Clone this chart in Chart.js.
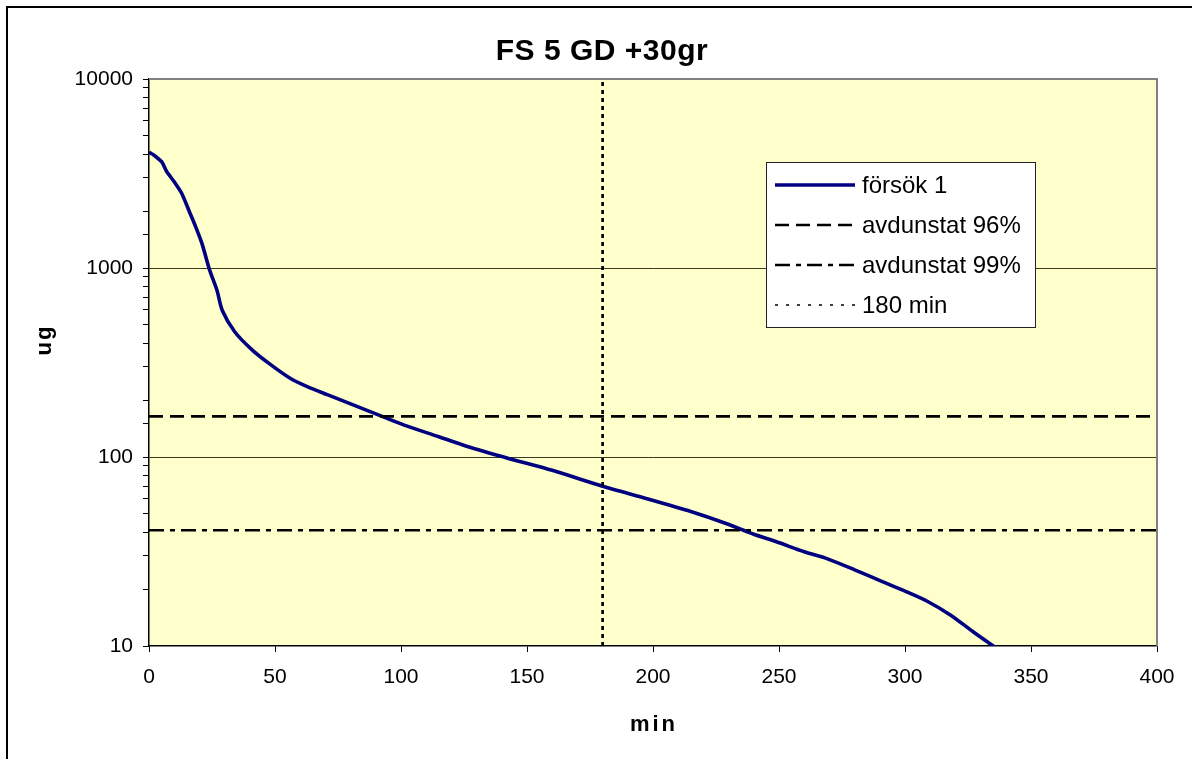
<!DOCTYPE html>
<html>
<head>
<meta charset="utf-8">
<title>FS 5 GD +30gr</title>
<script src="https://cdn.jsdelivr.net/npm/chart.js@4.4.1/dist/chart.umd.min.js"></script>
<style>
  html, body { margin: 0; padding: 0; background: #fff; overflow: hidden; }
  #wrap { position: relative; width: 1192px; height: 759px; }
</style>
</head>
<body>
<div id="wrap"><canvas id="c" width="1192" height="759"></canvas></div>
<script>
// Texts
const chartTitle = 'FS 5 GD +30gr';
const xAxisTitle = 'min';
const yAxisTitle = 'ug';
const seriesNames = ['försök 1', 'avdunstat 96%', 'avdunstat 99%', '180 min'];

// Measured mass (ug) against time (min)
const minutes = [0, 2, 5, 7, 10, 13, 16, 18, 21, 24, 27, 29, 34, 41, 48, 56, 63, 71, 80, 93,
                 101, 115, 126, 143, 160, 180, 198, 215, 229, 240, 249, 260, 269, 280, 291,
                 300, 309, 318, 327, 336];
const mass = [4100, 3950, 3650, 3240, 2860, 2480, 1990, 1720, 1350, 980, 760, 600, 460, 368,
              310, 261, 235, 213, 191, 163, 148, 128, 114, 98, 85, 70, 60, 51.5, 44.5, 39,
              35.6, 31.5, 29, 25.3, 21.9, 19.5, 17.2, 14.6, 11.9, 9.8];

// Reference levels
const level96 = 164;      // 4 % of the start mass left
const level99 = 41;       // 1 % of the start mass left
const markMinute = 180;

// Axes
const xMin = 0, xMax = 400, xStep = 50;
const yMin = 10, yMax = 10000;
const yTickValues = [10, 100, 1000, 10000];
const yTickLabels = ['10', '100', '1000', '10000'];

const FONT = "'Liberation Sans', Arial, Helvetica, sans-serif";
Chart.defaults.font.family = FONT;
Chart.defaults.color = '#000';

const PLOT_BG = '#FFFFCC';

// Page frame, plot background and plot border
const backdrop = {
  id: 'backdrop',
  beforeDraw(chart) {
    const { ctx, chartArea: a } = chart;
    ctx.save();
    ctx.fillStyle = '#fff';
    ctx.fillRect(0, 0, chart.width, chart.height);
    ctx.strokeStyle = '#000';
    ctx.lineWidth = 2;
    ctx.strokeRect(7, 7, chart.width + 20, chart.height + 20);
    ctx.fillStyle = PLOT_BG;
    ctx.fillRect(a.left, a.top, a.right - a.left, a.bottom - a.top);
    ctx.restore();
  },
  beforeDatasetsDraw(chart) {
    const { ctx, chartArea: a } = chart;
    ctx.save();
    ctx.strokeStyle = '#808080';
    ctx.lineWidth = 2;
    ctx.beginPath();
    ctx.moveTo(a.left, a.top);
    ctx.lineTo(a.right, a.top);
    ctx.lineTo(a.right, a.bottom);
    ctx.stroke();
    ctx.restore();
  }
};

// Titles and the boxed legend inside the plot
const annotations = {
  id: 'annotations',
  afterDraw(chart) {
    const { ctx, chartArea: a } = chart;
    ctx.save();
    ctx.fillStyle = '#000';
    ctx.textAlign = 'center';
    ctx.textBaseline = 'middle';
    ctx.font = `bold 30px ${FONT}`;
    ctx.letterSpacing = '0.5px';
    ctx.fillText(chartTitle, 602, 52);

    ctx.font = `bold 22px ${FONT}`;
    ctx.letterSpacing = '3px';
    ctx.fillText(xAxisTitle, (a.left + a.right) / 2 + 1, 725);

    ctx.save();
    ctx.translate(45, 340);
    ctx.rotate(-Math.PI / 2);
    ctx.font = `bold 22px ${FONT}`;
    ctx.letterSpacing = '2px';
    ctx.fillText(yAxisTitle, 0, 0);
    ctx.restore();
    ctx.letterSpacing = '0px';

    // legend
    const bx = 766, by = 162, bw = 269, bh = 165;
    ctx.fillStyle = '#fff';
    ctx.fillRect(bx, by, bw, bh);
    ctx.strokeStyle = '#222';
    ctx.lineWidth = 1;
    ctx.strokeRect(bx + 0.5, by + 0.5, bw, bh);

    chart.data.datasets.forEach((ds, i) => {
      const y = 185 + i * 40;
      ctx.save();
      ctx.strokeStyle = ds.borderColor;
      ctx.lineWidth = ds.legendWidth || ds.borderWidth;
      ctx.setLineDash(ds.legendDash || ds.borderDash || []);
      ctx.beginPath();
      ctx.moveTo(775, y);
      ctx.lineTo(855, y);
      ctx.stroke();
      ctx.restore();
      ctx.fillStyle = '#000';
      ctx.textAlign = 'left';
      ctx.textBaseline = 'middle';
      ctx.font = `24px ${FONT}`;
      ctx.fillText(ds.label, 862, y + 1);
    });
    ctx.restore();
  }
};

const curve = minutes.map((m, i) => ({ x: m, y: mass[i] }));

new Chart(document.getElementById('c'), {
  type: 'scatter',
  data: {
    datasets: [
      {
        label: seriesNames[0],
        data: curve,
        showLine: true,
        borderColor: '#000080',
        borderWidth: 3.6,
        pointRadius: 0,
        tension: 0.25,
        order: 4
      },
      {
        label: seriesNames[1],
        data: [{ x: xMin, y: level96 }, { x: xMax, y: level96 }],
        showLine: true,
        borderColor: '#000',
        borderWidth: 2.6,
        borderDash: [14, 7],
        pointRadius: 0,
        order: 3
      },
      {
        label: seriesNames[2],
        data: [{ x: xMin, y: level99 }, { x: xMax, y: level99 }],
        showLine: true,
        borderColor: '#000',
        borderWidth: 2.6,
        borderDash: [15, 6, 5, 6],
        pointRadius: 0,
        order: 2
      },
      {
        label: seriesNames[3],
        data: [{ x: markMinute, y: yMin }, { x: markMinute, y: yMax }],
        showLine: true,
        borderColor: '#000',
        borderWidth: 2.7,
        borderDash: [4, 4],
        legendWidth: 1.5,
        legendDash: [3, 8],
        pointRadius: 0,
        order: 1
      }
    ]
  },
  options: {
    responsive: false,
    animation: false,
    events: [],
    layout: { padding: { top: 79, left: 8, right: 35, bottom: 0 } },
    plugins: {
      legend: { display: false },
      title: { display: false },
      tooltip: { enabled: false }
    },
    scales: {
      x: {
        type: 'linear',
        min: xMin,
        max: xMax,
        afterFit(scale) { scale.height = 113; },
        border: { display: true, color: '#000', width: 1.5 },
        grid: {
          drawOnChartArea: false,
          drawTicks: true,
          tickLength: 6,
          tickColor: '#000',
          tickWidth: 1
        },
        ticks: {
          stepSize: xStep,
          padding: 13,
          font: { size: 21 },
          color: '#000',
          maxRotation: 0
        }
      },
      y: {
        type: 'logarithmic',
        min: yMin,
        max: yMax,
        afterFit(scale) { scale.width = 141; },
        border: { display: true, color: '#000', width: 1.5 },
        grid: {
          drawOnChartArea: true,
          drawTicks: true,
          tickLength: 6,
          tickColor: '#000',
          lineWidth: 1,
          color(ctx) {
            const v = ctx.tick && ctx.tick.value;
            if (v === yMax) return '#808080';
            if (yTickValues.includes(v) && v !== yMin) return '#3a3a20';
            return 'rgba(0,0,0,0)';
          }
        },
        ticks: {
          autoSkip: false,
          padding: 10,
          font: { size: 21 },
          color: '#000',
          callback(value) {
            const i = yTickValues.indexOf(Number(value));
            return i >= 0 ? yTickLabels[i] : '';
          }
        }
      }
    }
  },
  plugins: [backdrop, annotations]
});
</script>
</body>
</html>
